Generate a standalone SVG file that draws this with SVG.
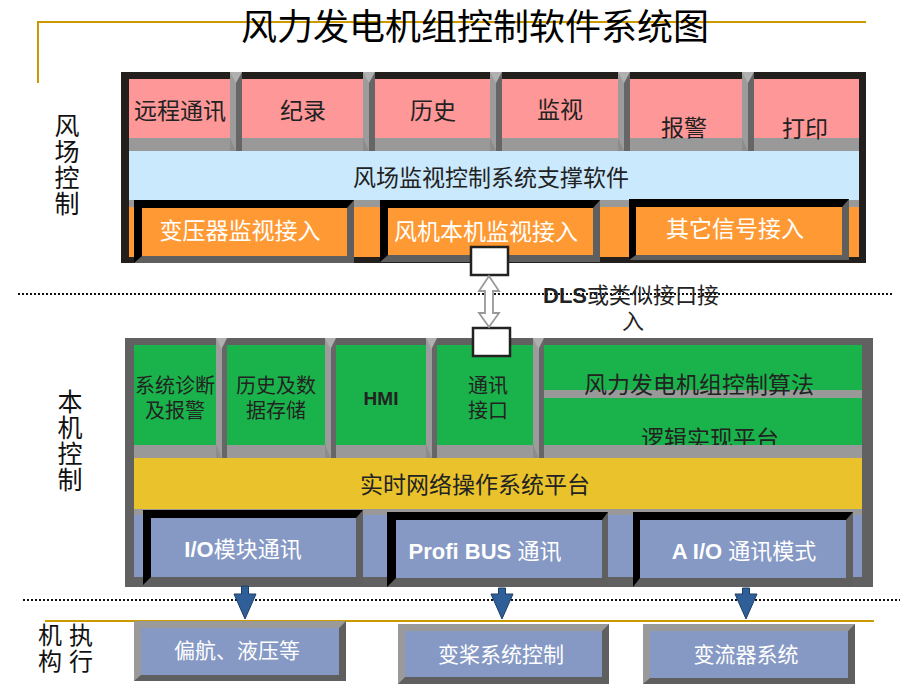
<svg xmlns="http://www.w3.org/2000/svg" xmlns:xlink="http://www.w3.org/1999/xlink" width="920" height="690" viewBox="0 0 920 690">
<defs>
<style>
text{font-family:"Liberation Sans","Noto Sans CJK SC",sans-serif;text-anchor:middle}
.dk{font-size:23px;fill:#222}
.wt{font-size:23px;fill:#fff}
.sm{font-size:20px;fill:#222}
.ex{font-size:21px;fill:#fff}
.io{font-size:22px;fill:#fff}
.side{font-size:25px;fill:#111}
.side2{font-size:24px;fill:#111}
.b{font-weight:bold}
.gold{stroke:#cc9900;stroke-width:2;fill:none}
.dot{stroke:#111;stroke-width:2;stroke-dasharray:2 2;fill:none}
.pink{fill:#fe9797}
.green{fill:#1ab34b}
.strip{fill:#999}
.orange{fill:#ff9933}
.blue{fill:#8599c4}
.shade{fill:#5f5f5f}
.black{fill:#000}
.light{fill:#9a9a9a}
.wbox{fill:#fff;stroke:#222;stroke-width:2.5}
.barr{fill:#2f5f98;stroke:#1d3e66;stroke-width:1}
</style>
<g id="sepT">
<rect x="0" y="0" width="6" height="79" fill="#9c9c9c"/>
<rect x="6" y="0" width="6" height="79" fill="#666"/>
<polygon points="0,0 12,0 6,11" fill="#b0b0b0"/>
<polygon points="0,66 6,79 0,79" fill="#8c8c8c"/>
</g>
<g id="sepB">
<rect x="0" y="0" width="6" height="120" fill="#9c9c9c"/>
<rect x="6" y="0" width="5" height="120" fill="#666"/>
<polygon points="0,0 11,0 5.5,11" fill="#b0b0b0"/>
<polygon points="0,106 5.5,120 0,120" fill="#8c8c8c"/>
</g>
</defs>

<rect width="920" height="690" fill="#fff"/>

<g id="decor">
<polyline class="gold" points="38,83 38,22 866,22"/>
<line class="gold" x1="45" y1="621" x2="874" y2="621"/>
<line class="dot" x1="18" y1="294" x2="893" y2="294"/>
<line class="dot" x1="23" y1="600" x2="900" y2="600"/>
</g>

<g id="title">
<text x="475" y="40" style="font-size:36px;fill:#000">风力发电机组控制软件系统图</text>
</g>

<g id="labels">
<text class="side" x="67" y="135">风</text>
<text class="side" x="67" y="161">场</text>
<text class="side" x="67" y="187">控</text>
<text class="side" x="67" y="213">制</text>
<text class="side" x="70" y="411">本</text>
<text class="side" x="70" y="437">机</text>
<text class="side" x="70" y="463">控</text>
<text class="side" x="70" y="489">制</text>
<text class="side2" x="50" y="644">机</text>
<text class="side2" x="81" y="644">执</text>
<text class="side2" x="50" y="670">构</text>
<text class="side2" x="81" y="670">行</text>
</g>

<g id="wind-farm-panel">
<rect x="121" y="72" width="745" height="191" fill="#221f1c"/>
<rect class="strip" x="129" y="79" width="730" height="72"/>
<rect class="pink" x="129" y="79" width="101" height="59"/>
<rect class="pink" x="242" y="79" width="121" height="59"/>
<rect class="pink" x="375" y="79" width="115" height="59"/>
<rect class="pink" x="502" y="79" width="116" height="59"/>
<rect class="pink" x="630" y="79" width="112" height="59"/>
<rect class="pink" x="754" y="79" width="105" height="59"/>
<use xlink:href="#sepT" x="230" y="72"/>
<use xlink:href="#sepT" x="363" y="72"/>
<use xlink:href="#sepT" x="490" y="72"/>
<use xlink:href="#sepT" x="618" y="72"/>
<use xlink:href="#sepT" x="742" y="72"/>
<text class="dk" x="180" y="119">远程通讯</text>
<text class="dk" x="303" y="119">纪录</text>
<text class="dk" x="433" y="119">历史</text>
<text class="dk" x="560" y="118">监视</text>
<text class="dk" x="684" y="136">报警</text>
<text class="dk" x="805" y="137">打印</text>
<rect x="129" y="151" width="730" height="49" fill="#cbe9fd"/>
<text class="dk" x="491" y="186">风场监视控制系统支撑软件</text>
<rect class="orange" x="129" y="200" width="730" height="57"/>
<rect class="strip" x="129" y="200" width="730" height="7"/>
</g>

<g id="transformer-input">
<rect class="shade" x="134" y="200" width="220" height="63"/>
<polygon class="black" points="134,200 354,200 347,208 142,208 142,256 134,263"/>
<rect class="orange" x="142" y="208" width="205" height="48"/>
<text class="wt" x="240" y="239">变压器监视接入</text>
</g>
<g id="turbine-input">
<rect class="shade" x="380" y="200" width="220" height="62"/>
<polygon class="black" points="380,200 600,200 593,208 388,208 388,255 380,262"/>
<rect class="orange" x="388" y="208" width="205" height="47"/>
<text class="wt" x="486" y="240">风机本机监视接入</text>
</g>
<g id="other-input">
<rect class="shade" x="629" y="199" width="220" height="61"/>
<polygon class="black" points="629,199 849,199 842,207 636,207 636,255 629,260"/>
<rect class="orange" x="636" y="207" width="206" height="48"/>
<text class="wt" x="735" y="237">其它信号接入</text>
</g>

<g id="local-panel">
<rect x="125" y="338" width="748" height="249" fill="#616161"/>
<rect class="strip" x="134" y="345" width="728" height="113"/>
<rect class="green" x="134" y="345" width="82" height="100"/>
<rect class="green" x="227" y="345" width="98" height="100"/>
<rect class="green" x="336" y="345" width="90" height="100"/>
<rect class="green" x="437" y="345" width="96" height="100"/>
<rect class="green" x="544" y="345" width="318" height="45"/>
<rect class="green" x="544" y="398" width="318" height="47"/>
<text class="dk" x="710" y="447">逻辑实现平台</text>
<rect class="strip" x="134" y="445" width="728" height="13"/>
<use xlink:href="#sepB" x="216" y="338"/>
<use xlink:href="#sepB" x="325" y="338"/>
<use xlink:href="#sepB" x="426" y="338"/>
<use xlink:href="#sepB" x="533" y="338"/>
<text class="sm" x="175" y="393">系统诊断</text>
<text class="sm" x="175" y="418">及报警</text>
<text class="sm" x="276" y="393">历史及数</text>
<text class="sm" x="276" y="418">据存储</text>
<text class="b" x="381" y="405" style="font-size:19px;fill:#222">HMI</text>
<text class="sm" x="488" y="393">通讯</text>
<text class="sm" x="488" y="418">接口</text>
<text class="dk" x="699" y="393">风力发电机组控制算法</text>
<rect x="134" y="458" width="728" height="51" fill="#e9c22c"/>
<text class="dk" x="475" y="493">实时网络操作系统平台</text>
<rect class="strip" x="134" y="509" width="728" height="6"/>
<rect class="blue" x="134" y="515" width="728" height="62"/>
</g>

<g id="io-module">
<rect class="shade" x="143" y="510" width="220" height="75"/>
<polygon class="black" points="143,510 363,510 356,518 151,518 151,577 143,585"/>
<rect class="blue" x="151" y="518" width="205" height="59"/>
<text class="io" x="243" y="557"><tspan class="b">I/O</tspan>模块通讯</text>
</g>
<g id="profibus">
<rect class="shade" x="387" y="512" width="221" height="75"/>
<polygon class="black" points="387,512 608,512 602,520 396,520 396,578 387,587"/>
<rect class="blue" x="396" y="520" width="206" height="58"/>
<text class="io" x="485" y="559"><tspan class="b">Profi BUS </tspan>通讯</text>
</g>
<g id="aio">
<rect class="shade" x="633" y="512" width="220" height="75"/>
<polygon class="black" points="633,512 853,512 846,520 640,520 640,578 633,587"/>
<rect class="blue" x="640" y="520" width="206" height="58"/>
<text class="io" x="744" y="559"><tspan class="b">A I/O </tspan>通讯模式</text>
</g>

<g id="yaw-hydraulic">
<rect class="shade" x="134" y="621" width="212" height="60"/>
<polygon class="light" points="134,621 346,621 339,628 141,628 141,675 134,681"/>
<rect class="blue" x="141" y="628" width="198" height="47"/>
<text class="ex" x="237" y="658">偏航、液压等</text>
</g>
<g id="pitch-control">
<rect class="shade" x="398" y="624" width="211" height="60"/>
<polygon class="light" points="398,624 609,624 602,631 405,631 405,677 398,684"/>
<rect class="blue" x="405" y="631" width="197" height="46"/>
<text class="ex" x="501" y="662">变桨系统控制</text>
</g>
<g id="converter">
<rect class="shade" x="643" y="624" width="212" height="60"/>
<polygon class="light" points="643,624 855,624 848,631 650,631 650,678 643,684"/>
<rect class="blue" x="650" y="631" width="198" height="47"/>
<text class="ex" x="746" y="662">变流器系统</text>
</g>

<g id="port-top"><rect class="wbox" x="471" y="247" width="37" height="28"/></g>
<g id="port-bottom"><rect class="wbox" x="473" y="328" width="37" height="28"/></g>

<g id="connectors">
<polygon points="489,276 499,291 493,291 493,313 499,313 489,327 479,313 485,313 485,291 479,291" fill="#fff" stroke="#999" stroke-width="1.8"/>
<polygon class="barr" points="241.5,586 248.5,586 248.5,594 256,594 245,619 234,594 241.5,594"/>
<polygon class="barr" points="498.5,588 505.5,588 505.5,594 513,594 502,619 491,594 498.5,594"/>
<polygon class="barr" points="742.5,588 749.5,588 749.5,594 757,594 746,619 735,594 742.5,594"/>
</g>

<g id="dls-label">
<text x="543" y="303" style="font-size:22px;fill:#222;text-anchor:start"><tspan class="b">DLS</tspan>或类似接口接</text>
<text x="633" y="329" style="font-size:22px;fill:#222">入</text>
</g>
</svg>
